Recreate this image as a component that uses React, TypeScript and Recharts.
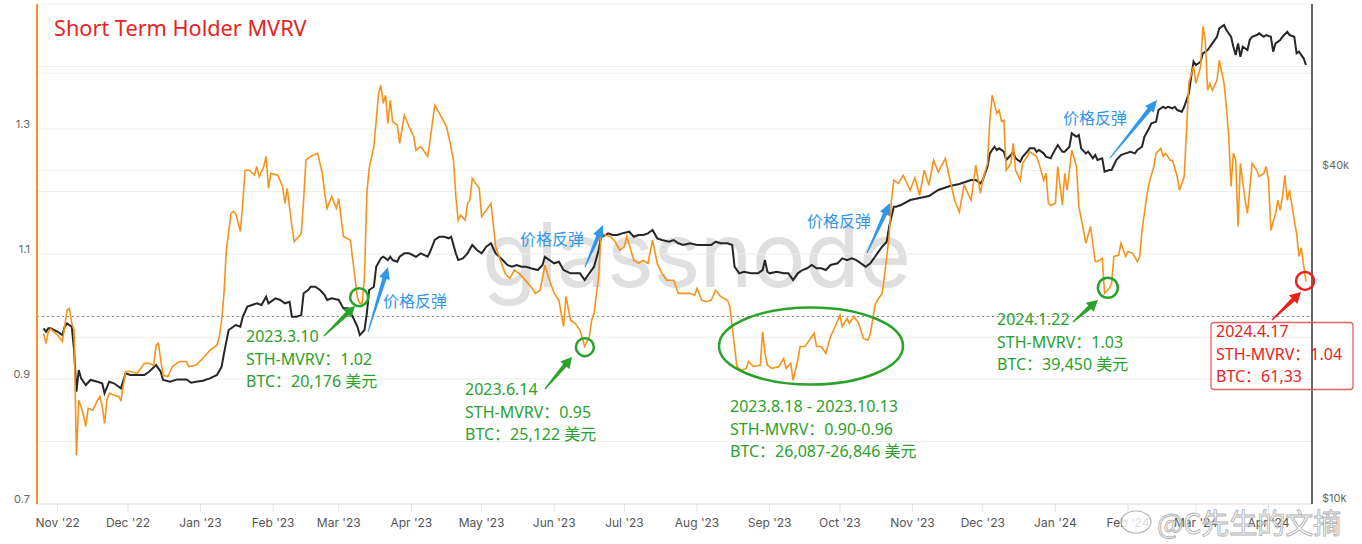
import React from 'react';
import { ComposedChart, Line, XAxis, YAxis, CartesianGrid, ReferenceLine, ReferenceDot } from 'recharts';

// x values are days since 2022-11-01
const EPOCH = '2022-11-01';

const sthMvrv: [number, number][] = [
  [-6,0.973],[-5,0.957],[-4,0.976],[-3,0.980],[-1,0.973],[0,0.970],[2,0.960],[4,1.010],[5,1.013],[6,0.989],[7,0.978],[8,0.778],[9,0.866],[10,0.856],[11,0.842],[12,0.824],[13,0.853],[15,0.850],[17,0.866],[18,0.872],[19,0.856],[20,0.829],[21,0.866],[22,0.877],[24,0.874],[26,0.872],[27,0.866],[29,0.912],[31,0.912],[34,0.909],[37,0.925],[39,0.925],[41,0.922],[42,0.954],[43,0.957],[44,0.930],[45,0.906],[47,0.904],[49,0.920],[52,0.928],[55,0.928],[56,0.920],[59,0.922],[62,0.933],[65,0.946],[68,0.954],[69,0.968],[70,0.994],[71,1.037],[72,1.106],[74,1.165],[75,1.168],[76,1.165],[78,1.136],[79,1.181],[80,1.234],[82,1.234],[84,1.226],[85,1.240],[86,1.224],[88,1.240],[89,1.256],[90,1.205],[91,1.229],[94,1.226],[96,1.208],[97,1.181],[98,1.205],[100,1.144],[101,1.120],[103,1.128],[104,1.133],[105,1.186],[106,1.250],[108,1.256],[109,1.258],[111,1.261],[113,1.229],[114,1.197],[115,1.173],[117,1.192],[119,1.173],[120,1.189],[122,1.128],[125,1.122],[126,1.090],[128,1.030],[129,1.021],[130,1.022],[131,1.064],[132,1.197],[133,1.237],[135,1.272],[136,1.314],[137,1.357],[138,1.370],[139,1.341],[140,1.354],[141,1.309],[142,1.346],[143,1.312],[145,1.306],[146,1.277],[148,1.322],[150,1.304],[152,1.288],[153,1.266],[155,1.272],[158,1.256],[159,1.282],[161,1.338],[163,1.325],[166,1.304],[167,1.288],[169,1.250],[170,1.192],[171,1.154],[172,1.162],[174,1.154],[175,1.181],[176,1.186],[177,1.221],[180,1.205],[181,1.160],[183,1.170],[185,1.181],[187,1.112],[189,1.090],[191,1.069],[193,1.061],[195,1.074],[197,1.069],[199,1.061],[202,1.048],[204,1.037],[206,1.042],[208,1.082],[210,1.058],[212,1.037],[214,1.026],[216,0.984],[217,1.032],[219,0.994],[221,0.989],[223,0.978],[225,0.952],[227,0.968],[228,0.994],[229,1.005],[231,1.064],[232,1.133],[234,1.130],[236,1.128],[238,1.120],[240,1.106],[242,1.112],[243,1.128],[246,1.090],[248,1.085],[250,1.090],[252,1.085],[254,1.122],[256,1.085],[258,1.069],[260,1.058],[263,1.058],[265,1.037],[267,1.037],[270,1.037],[272,1.034],[273,1.045],[275,1.026],[277,1.024],[279,1.026],[281,1.042],[283,1.032],[286,1.026],[287,1.016],[288,0.984],[290,0.920],[292,0.914],[294,0.917],[295,0.928],[297,0.920],[300,0.922],[301,0.976],[302,0.941],[303,0.922],[305,0.917],[308,0.920],[310,0.933],[311,0.917],[313,0.925],[314,0.898],[316,0.930],[317,0.952],[319,0.952],[321,0.962],[323,0.973],[324,0.952],[326,0.952],[328,0.941],[330,0.968],[332,0.984],[334,1.002],[335,0.984],[337,0.997],[338,0.989],[340,1.000],[342,0.989],[344,0.965],[346,0.962],[347,0.973],[349,1.018],[350,1.026],[352,1.037],[353,1.064],[355,1.128],[356,1.186],[357,1.218],[359,1.213],[361,1.226],[364,1.202],[366,1.222],[368,1.194],[370,1.234],[372,1.210],[374,1.250],[376,1.231],[379,1.253],[381,1.218],[383,1.186],[385,1.167],[387,1.210],[390,1.186],[392,1.242],[394,1.197],[395,1.218],[397,1.245],[398,1.314],[399,1.354],[401,1.325],[402,1.330],[403,1.312],[404,1.314],[405,1.234],[407,1.245],[408,1.277],[409,1.234],[411,1.218],[412,1.245],[414,1.256],[415,1.264],[416,1.261],[418,1.256],[419,1.245],[421,1.218],[422,1.229],[423,1.181],[424,1.178],[426,1.181],[427,1.240],[429,1.178],[430,1.229],[431,1.202],[433,1.266],[435,1.240],[436,1.176],[438,1.138],[439,1.117],[441,1.144],[443,1.088],[444,1.088],[446,1.093],[447,1.037],[449,1.045],[450,1.053],[451,1.096],[453,1.098],[454,1.117],[456,1.096],[457,1.104],[459,1.101],[461,1.088],[462,1.096],[463,1.138],[465,1.192],[466,1.213],[468,1.240],[469,1.261],[471,1.269],[472,1.256],[473,1.261],[475,1.250],[476,1.250],[478,1.224],[479,1.202],[481,1.224],[482,1.298],[483,1.374],[485,1.400],[486,1.373],[488,1.400],[489,1.464],[490,1.442],[491,1.362],[492,1.373],[493,1.362],[495,1.378],[496,1.410],[498,1.373],[499,1.336],[500,1.288],[501,1.208],[502,1.261],[503,1.250],[504,1.144],[505,1.245],[507,1.186],[508,1.165],[510,1.245],[512,1.234],[513,1.224],[515,1.229],[516,1.240],[517,1.218],[518,1.138],[520,1.165],[521,1.186],[522,1.170],[523,1.192],[524,1.226],[525,1.186],[526,1.202],[528,1.154],[529,1.133],[530,1.096],[531,1.110],[532,1.082],[533,1.056]
];

const btcPrice: [number, number][] = [
  [-6,20760],[-5,20470],[-4,20760],[-3,20760],[0,20470],[2,20190],[3,20900],[4,21200],[6,20900],[7,18970],[8,15950],[9,17460],[10,16860],[12,16400],[14,16750],[17,16630],[19,16520],[20,15850],[22,16630],[24,16520],[27,16180],[29,17220],[31,17100],[34,17100],[37,17100],[39,17330],[42,17820],[44,17330],[45,16750],[48,16630],[51,16790],[55,16790],[57,16560],[59,16630],[62,16700],[65,16860],[68,17100],[70,17700],[71,18710],[73,20620],[75,20900],[76,21050],[78,20900],[79,21790],[81,22720],[83,22880],[85,23040],[87,22880],[89,23680],[90,23040],[93,23520],[95,23360],[97,23040],[99,23190],[100,21790],[102,21790],[104,21940],[105,24020],[107,24350],[108,24680],[110,24680],[112,24350],[114,23850],[115,23360],[117,23520],[120,23360],[122,22560],[124,22560],[126,21790],[128,20900],[129,20190],[131,20620],[132,22100],[133,24350],[135,24680],[136,26830],[138,27780],[139,27960],[141,27580],[142,27960],[143,27580],[145,27390],[146,27960],[148,28360],[150,28360],[153,27960],[155,28360],[158,27960],[159,28550],[161,29980],[163,30390],[165,30390],[167,30190],[168,30390],[170,28360],[171,27580],[173,27780],[175,28360],[177,29360],[179,28760],[181,28360],[183,29150],[185,29570],[187,28360],[190,27580],[192,27020],[194,26830],[196,27020],[198,26830],[200,26830],[202,26650],[205,26460],[207,27020],[208,27960],[210,27580],[212,27210],[214,27390],[216,26460],[219,26100],[221,26100],[223,26100],[225,25380],[227,26100],[229,26830],[231,28760],[232,30390],[234,30610],[235,30820],[237,30610],[239,30610],[241,30820],[244,31030],[246,30390],[248,30610],[250,30610],[252,30820],[254,31250],[256,30190],[258,29980],[261,29770],[263,29980],[265,29570],[267,29360],[270,29570],[273,29360],[276,29360],[279,29360],[281,29770],[283,29570],[286,29570],[288,29360],[289,26830],[291,26100],[293,26270],[296,26100],[299,26100],[301,26460],[302,27580],[303,26270],[304,26100],[307,26270],[310,26100],[312,26100],[314,25380],[316,26100],[318,26460],[320,26650],[322,27020],[324,26650],[326,26650],[328,26460],[330,27020],[333,27210],[335,27780],[337,27580],[339,27780],[341,27580],[343,27210],[345,26830],[347,27210],[350,28360],[352,29150],[354,29770],[355,31680],[357,34430],[358,34430],[360,34670],[364,35400],[368,35700],[372,36000],[376,36910],[381,37530],[385,37840],[390,38470],[392,38470],[394,37950],[395,38470],[397,40660],[398,42990],[400,44190],[401,43590],[402,43890],[404,43280],[405,41810],[407,42690],[408,43280],[409,42100],[411,41520],[412,42390],[414,43280],[415,43890],[417,43890],[418,43280],[419,43590],[421,42990],[422,42390],[424,42100],[425,42990],[427,44500],[429,43280],[430,43280],[432,44190],[433,46720],[435,46060],[436,46390],[437,43890],[439,42990],[440,43280],[442,42100],[443,42690],[444,41810],[446,42100],[447,39820],[449,40110],[450,40110],[452,41810],[454,42690],[456,42990],[458,43280],[460,42990],[461,43590],[463,44190],[464,46060],[466,47700],[467,48700],[469,49030],[470,51470],[472,52180],[473,51840],[474,52180],[476,51840],[477,52180],[478,51470],[480,51110],[481,52180],[483,55170],[484,59120],[485,62930],[486,62070],[488,62930],[489,65160],[491,66060],[492,66970],[493,67930],[495,69820],[496,72300],[498,73300],[499,71790],[501,69820],[502,66970],[503,64710],[504,67930],[505,64250],[506,66970],[508,66060],[509,68870],[510,69820],[512,70310],[513,70810],[515,69820],[516,70310],[518,69820],[519,65600],[520,67930],[522,68870],[523,69820],[525,71290],[526,70310],[528,69820],[529,65160],[530,65600],[532,63820],[533,62070]
];

const monthTickDays = [0, 30, 61, 92, 120, 151, 181, 212, 242, 273, 304, 334, 365, 395, 426, 457, 486, 517];
const monthTickLabels = ["Nov '22", "Dec '22", "Jan '23", "Feb '23", "Mar '23", "Apr '23", "May '23", "Jun '23", "Jul '23", "Aug '23", "Sep '23", "Oct '23", "Nov '23", "Dec '23", "Jan '24", "Feb '24", "Mar '24", "Apr '24"];

const mvrvTicks = [0.7, 0.8, 0.9, 1.0, 1.1, 1.2, 1.3, 1.4, 1.5];
const mvrvTickLabels = ['0.7', '', '0.9', '', '1.1', '', '1.3', '', ''];
const priceTicks = [10000, 20000, 40000, 60000];
const priceTickLabels = ['$10k', '', '$40k', ''];

// annotation points (day, mvrv)
const circleMar = [128.7, 1.031];
const circleJun = [225.1, 0.951];
const circleJan = [448.4, 1.046];
const circleApr = [532.6, 1.057];

const ORANGE = '#f7931a';
const GREEN = '#2aa22a';
const BLUE = '#2f97ea';
const RED = '#e8231f';
const FONT = "'Noto Sans', 'Noto Sans CJK SC', sans-serif";

const W = 1362;
const H = 544;

function arrowPoints(x1: number, y1: number, x2: number, y2: number, w0: number, w1: number, headLen: number, headW: number) {
  const dx = x2 - x1, dy = y2 - y1;
  const len = Math.sqrt(dx * dx + dy * dy);
  const ux = dx / len, uy = dy / len;
  const nx = -uy, ny = ux;
  const bx = x2 - ux * headLen, by = y2 - uy * headLen;
  const pts = [
    [x1 + nx * w0, y1 + ny * w0],
    [bx + nx * w1, by + ny * w1],
    [bx + nx * headW, by + ny * headW],
    [x2, y2],
    [bx - nx * headW, by - ny * headW],
    [bx - nx * w1, by - ny * w1],
    [x1 - nx * w0, y1 - ny * w0],
  ];
  return pts.map((p) => p[0].toFixed(1) + ',' + p[1].toFixed(1)).join(' ');
}

const LeftTick = (props: any) => {
  const { y, index } = props;
  const label = mvrvTickLabels[index] ?? '';
  if (!label) return <g />;
  return (
    <text x={30} y={y - 4} textAnchor="end" dominantBaseline="middle" fontSize={11} fill="#666" fontFamily="Inter, sans-serif">
      {label}
    </text>
  );
};

const RightTick = (props: any) => {
  const { y, index } = props;
  const label = priceTickLabels[index] ?? '';
  if (!label) return <g />;
  return (
    <text x={1322} y={y - 5} textAnchor="start" dominantBaseline="middle" fontSize={11} fill="#666" fontFamily="Inter, sans-serif">
      {label}
    </text>
  );
};

function NoteBlock({ x, y, lines, color }: { x: number; y: number; lines: string[]; color: string }) {
  return (
    <g>
      {lines.map((t, i) => (
        <text key={i} x={x} y={y + i * 22.3} fill={color} fontSize={16} fontFamily={FONT} dominantBaseline="middle">
          {t}
        </text>
      ))}
    </g>
  );
}

export default function App() {
  const mvrvData = sthMvrv.map(([d, v]) => ({ d, v }));
  const priceData = btcPrice.map(([d, p]) => ({ d, p }));

  return (
    <div style={{ position: 'absolute', left: 0, top: 0, width: W, height: H, background: '#fff', overflow: 'hidden' }}>
      <svg width={W} height={H} style={{ position: 'absolute', left: 0, top: 0 }}>
        <text x={482} y={287} fontSize={90} fontFamily="Inter, 'Open Sans', sans-serif" fill="#d4d4d4" fillOpacity={0.75} letterSpacing={-1}>
          glassnode
        </text>
      </svg>
      <div style={{ position: 'absolute', left: 0, top: 0 }}>
        <ComposedChart width={W} height={H} margin={{ top: 4, right: 0, bottom: 0, left: 0 }}>
          <CartesianGrid yAxisId="mvrv" vertical={false} stroke="#ededed" />
          <XAxis
            dataKey="d"
            type="number"
            domain={[-8.84, 535.57]}
            allowDataOverflow
            ticks={monthTickDays}
            interval={0}
            tickFormatter={(v: number) => monthTickLabels[monthTickDays.indexOf(v)] ?? ''}
            height={40}
            tickSize={8}
            tickMargin={6}
            axisLine={{ stroke: '#e6e6e6' }}
            tickLine={{ stroke: '#e3e3e3' }}
            tick={{ fontSize: 12, fill: '#555', fontFamily: 'Inter, sans-serif' }}
          />
          <YAxis
            yAxisId="mvrv"
            domain={[0.7, 1.5]}
            allowDataOverflow
            ticks={mvrvTicks}
            interval={0}
            width={37}
            axisLine={{ stroke: ORANGE, strokeWidth: 2 }}
            tickLine={false}
            tick={<LeftTick />}
          />
          <YAxis
            yAxisId="price"
            orientation="right"
            scale="log"
            domain={[10000, 80000]}
            allowDataOverflow
            ticks={priceTicks}
            interval={0}
            width={50}
            axisLine={{ stroke: '#333', strokeWidth: 1.5 }}
            tickLine={false}
            tick={<RightTick />}
          />
          <ReferenceLine yAxisId="price" y={20000} stroke="#ededed" />
          <ReferenceLine yAxisId="price" y={40000} stroke="#ededed" />
          <ReferenceLine yAxisId="price" y={60000} stroke="#ededed" />
          <ReferenceLine yAxisId="mvrv" y={1} stroke="#888" strokeDasharray="2 3" />
          <Line
            yAxisId="price"
            data={priceData}
            dataKey="p"
            type="linear"
            stroke="#262626"
            strokeWidth={2}
            dot={false}
            isAnimationActive={false}
          />
          <Line
            yAxisId="mvrv"
            data={mvrvData}
            dataKey="v"
            type="linear"
            stroke={ORANGE}
            strokeWidth={1.6}
            dot={false}
            isAnimationActive={false}
          />
          <ReferenceDot yAxisId="mvrv" x={circleMar[0]} y={circleMar[1]} r={9} fill="none" stroke={GREEN} strokeWidth={2.5} />
          <ReferenceDot yAxisId="mvrv" x={circleJun[0]} y={circleJun[1]} r={9} fill="none" stroke={GREEN} strokeWidth={2.5} />
          <ReferenceDot yAxisId="mvrv" x={circleJan[0]} y={circleJan[1]} r={10} fill="none" stroke={GREEN} strokeWidth={2.5} />
          <ReferenceDot yAxisId="mvrv" x={circleApr[0]} y={circleApr[1]} r={9} fill="none" stroke={RED} strokeWidth={2.5} />
        </ComposedChart>
      </div>
      <svg width={W} height={H} style={{ position: 'absolute', left: 0, top: 0, pointerEvents: 'none' }}>
        <text x={54} y={36} fill={RED} fontSize={21.7} fontFamily={FONT}>
          Short Term Holder MVRV
        </text>

        {/* green arrows */}
        <polygon points={arrowPoints(324, 336, 355, 306, 0.6, 2.2, 11, 6)} fill={GREEN} />
        <polygon points={arrowPoints(545, 389, 572, 357, 0.6, 2.2, 11, 6)} fill={GREEN} />
        <polygon points={arrowPoints(1073, 322, 1098, 300, 0.6, 2.2, 11, 6)} fill={GREEN} />
        <polygon points={arrowPoints(1272, 320, 1301, 292, 0.6, 2.2, 11, 6)} fill={RED} />

        {/* blue arrows */}
        <polygon points={arrowPoints(368, 332, 388, 267, 0.5, 2.2, 12, 5.5)} fill={BLUE} />
        <polygon points={arrowPoints(585, 267, 603, 225, 0.5, 2.2, 12, 5.5)} fill={BLUE} />
        <polygon points={arrowPoints(867, 253, 890, 203, 0.5, 2.2, 12, 5.5)} fill={BLUE} />
        <polygon points={arrowPoints(1110, 158, 1157, 100, 0.5, 2.2, 12, 5.5)} fill={BLUE} />

        <text x={383} y={303} fill={BLUE} fontSize={16} fontFamily={FONT} dominantBaseline="middle">价格反弹</text>
        <text x={520} y={241} fill={BLUE} fontSize={16} fontFamily={FONT} dominantBaseline="middle">价格反弹</text>
        <text x={807} y={223} fill={BLUE} fontSize={16} fontFamily={FONT} dominantBaseline="middle">价格反弹</text>
        <text x={1063} y={120} fill={BLUE} fontSize={16} fontFamily={FONT} dominantBaseline="middle">价格反弹</text>

        <ellipse cx={811} cy={346} rx={92} ry={38.5} fill="none" stroke={GREEN} strokeWidth={2.5} />

        <NoteBlock x={246} y={338} color={GREEN} lines={['2023.3.10', 'STH-MVRV：1.02', 'BTC：20,176 美元']} />
        <NoteBlock x={465} y={391} color={GREEN} lines={['2023.6.14', 'STH-MVRV：0.95', 'BTC：25,122 美元']} />
        <NoteBlock x={730} y={408} color={GREEN} lines={['2023.8.18 - 2023.10.13', 'STH-MVRV：0.90-0.96', 'BTC：26,087-26,846 美元']} />
        <NoteBlock x={997} y={321} color={GREEN} lines={['2024.1.22', 'STH-MVRV：1.03', 'BTC：39,450 美元']} />

        <rect x={1211} y={322.5} width={142} height={67} rx={3} fill="none" stroke="#e46464" strokeWidth={1.3} />
        <NoteBlock x={1216} y={333} color={RED} lines={['2024.4.17', 'STH-MVRV：1.04', 'BTC：61,33']} />

        <g opacity={0.8}>
          <ellipse cx={1136} cy={522} rx={15} ry={11} fill="#fff" stroke="#a0a0a0" strokeWidth={1.2} />
          <text x={1157} y={534} fontSize={28} fontFamily="'Noto Sans CJK SC', sans-serif" fill="#fff" stroke="#a0a0a0" strokeWidth={0.9}>
            @C先生的文摘
          </text>
        </g>
      </svg>
    </div>
  );
}
